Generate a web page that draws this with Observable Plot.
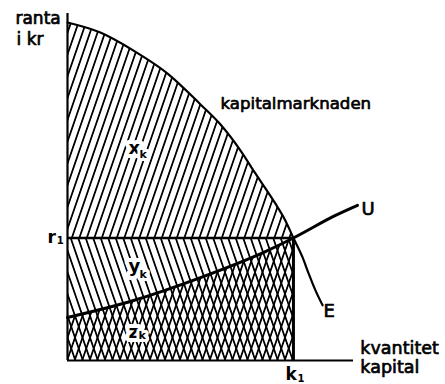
<!DOCTYPE html>
<html>
<head>
<meta charset="utf-8">
<script src="https://cdn.jsdelivr.net/npm/d3@7"></script>
<script src="https://cdn.jsdelivr.net/npm/@observablehq/plot@0.6"></script>
<style>
  html, body { margin: 0; padding: 0; background: white; }
</style>
</head>
<body>
<div id="chart"></div>
<script>
// Demand curve E (kapitalmarknaden) — quantity / interest rate
const eX = [0, 11.5, 23.1, 35.0, 46.5, 53.5, 60.5, 65.7, 69.2, 72.7, 76.2, 79.0, 82.2, 84.3, 86.7, 89.2];
const eY = [97.4, 94.5, 89.3, 82.7, 73.8, 68.0, 60.5, 53.9, 49.6, 45.2, 40.3, 35.3, 29.7, 25.1, 20.2, 15.9];
// Supply curve U
const uX = [0, 23.1, 46.5, 69.2, 79.0, 93.7, 101.4];
const uY = [12.4, 17.3, 23.9, 31.4, 35.3, 41.8, 44.7];
// Equilibrium
const k1 = 79.0;
const r1 = 35.3;
const axisTopY = 100;
const axisEndX = 100;

// Text labels
const labelText = ["ranta", "i kr", "kapitalmarknaden", "U", "E", "kvantitet", "kapital"];
const labelX = [-18.2, -17.8, 53.5, 102.8, 89.5, 102.4, 102.4];
const labelY = [97.1, 90.8, 72.6, 41.8, 12.4, 2.0, -3.5];
const labelSize = [17, 17, 16.6, 18, 18, 17.5, 17.5];

// Area labels (letter + subscript)
const areaLetter = ["x", "y", "z"];
const areaLetterX = [21.3, 21.3, 21.3];
const areaLetterY = [59.4, 25.4, 6.6];
const areaSub = ["k", "k", "k"];
const areaSubX = [25.2, 25.2, 24.8];
const areaSubY = [58.5, 23.9, 6.3];

// Tick labels
const tickLetter = ["r", "k"];
const tickLetterX = [-7.0, 76.2];
const tickLetterY = [34.0, -5.5];
const tickSub = ["1", "1"];
const tickSubX = [-3.8, 80.4];
const tickSubY = [33.7, -6.3];

const E = eX.map((x, i) => ({x, y: eY[i]}));
const U = uX.map((x, i) => ({x, y: uY[i]}));
const EArea = E.filter(d => d.x <= k1);
const UArea = U.filter(d => d.x <= k1);
const labels = labelText.map((t, i) => ({t, x: labelX[i], y: labelY[i], s: labelSize[i]}));
const areaLabels = areaLetter.map((t, i) => ({t, x: areaLetterX[i], y: areaLetterY[i], sub: areaSub[i], sx: areaSubX[i], sy: areaSubY[i]}));
const ticks = tickLetter.map((t, i) => ({t, x: tickLetterX[i], y: tickLetterY[i], sub: tickSub[i], sx: tickSubX[i], sy: tickSubY[i]}));

const chart = Plot.plot({
  width: 445,
  height: 384,
  marginLeft: 67,
  marginRight: 92,
  marginTop: 13,
  marginBottom: 24,
  x: {domain: [0, 100], axis: null},
  y: {domain: [0, 100], axis: null},
  style: {fontFamily: "DejaVu Sans", background: "white", color: "black"},
  marks: [
    // hatched regions
    Plot.areaY(EArea, {x: "x", y1: r1, y2: "y", fill: "url(#hatchF)", curve: "monotone-x"}),
    Plot.rect([0], {x1: 0, x2: k1, y1: 0, y2: r1, fill: "url(#hatchB)"}),
    Plot.areaY(UArea, {x: "x", y1: 0, y2: "y", fill: "url(#hatchF)", curve: "monotone-x"}),
    // lines
    Plot.ruleY([r1], {x1: 0, x2: k1, stroke: "black", strokeWidth: 2.5}),
    Plot.ruleX([k1], {y1: 0, y2: r1, stroke: "black", strokeWidth: 3}),
    Plot.line(E, {x: "x", y: "y", curve: "monotone-x", stroke: "black", strokeWidth: 2.2}),
    Plot.line(U, {x: "x", y: "y", curve: "monotone-x", stroke: "black", strokeWidth: 3}),
    Plot.ruleX([0], {y1: 0, y2: axisTopY, stroke: "black", strokeWidth: 2.2}),
    Plot.ruleY([0], {x1: 0, x2: axisEndX, stroke: "black", strokeWidth: 2.2}),
    // area labels with white halo
    Plot.text(areaLabels, {x: "x", y: "y", text: "t", textAnchor: "start", lineAnchor: "bottom", fontSize: 18, fontWeight: "bold", fill: "black", stroke: "white", strokeWidth: 8, paintOrder: "stroke"}),
    Plot.text(areaLabels, {x: "sx", y: "sy", text: "sub", textAnchor: "start", lineAnchor: "bottom", fontSize: 11, fontWeight: "bold", fill: "black", stroke: "white", strokeWidth: 6, paintOrder: "stroke"}),
    // tick labels
    Plot.text(ticks, {x: "x", y: "y", text: "t", textAnchor: "start", lineAnchor: "bottom", fontSize: 17, fontWeight: "bold", fill: "black"}),
    Plot.text(ticks, {x: "sx", y: "sy", text: "sub", textAnchor: "start", lineAnchor: "bottom", fontSize: 10, fontWeight: "bold", fill: "black"}),
    // other labels (slightly emboldened like the print)
    Plot.text(labels, {x: "x", y: "y", text: "t", textAnchor: "start", lineAnchor: "bottom", fontSize: d => d.s, fill: "black", stroke: "black", strokeWidth: 0.7})
  ]
});

const a = 19, s = 7.5 * Math.cos(a * Math.PI / 180);
chart.insertAdjacentHTML("afterbegin", `
<defs>
  <pattern id="hatchF" patternUnits="userSpaceOnUse" width="${s}" height="20" patternTransform="rotate(${a})">
    <line x1="${s/2}" y1="-2" x2="${s/2}" y2="22" stroke="black" stroke-width="1.8"/>
  </pattern>
  <pattern id="hatchB" patternUnits="userSpaceOnUse" width="${s}" height="20" patternTransform="rotate(${-a})">
    <line x1="${s/2}" y1="-2" x2="${s/2}" y2="22" stroke="black" stroke-width="1.8"/>
  </pattern>
</defs>`);

document.getElementById("chart").appendChild(chart);
</script>
</body>
</html>
